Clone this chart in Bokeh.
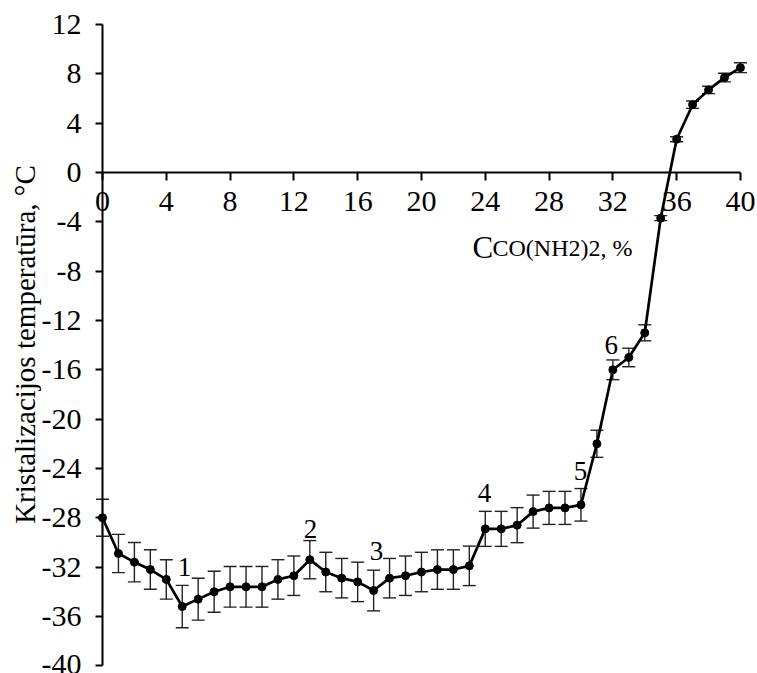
from math import pi

from bokeh.plotting import figure
from bokeh.models import (Range1d, FixedTicker, ColumnDataSource, Whisker,
                          TeeHead, LinearAxis, PrintfTickFormatter)
from bokeh.core.properties import value
from bokeh.embed import file_html
from bokeh.resources import INLINE

# Urea concentration, % and crystallization temperature, °C (mean ± error)
conc = list(range(41))
temp = [-28.0, -30.9, -31.6, -32.2, -33.0, -35.2, -34.6, -34.0, -33.6, -33.6,
        -33.6, -33.0, -32.7, -31.4, -32.4, -32.9, -33.2, -33.9, -32.9, -32.7,
        -32.4, -32.2, -32.2, -31.9, -28.9, -28.9, -28.6, -27.5, -27.2, -27.2,
        -26.95, -22.0, -16.0, -15.0, -13.0, -3.7, 2.7, 5.5, 6.7, 7.7, 8.5]
err = [1.5, 1.55, 1.6, 1.6, 1.6, 1.72, 1.7, 1.66, 1.65, 1.65,
       1.65, 1.6, 1.6, 1.55, 1.6, 1.6, 1.6, 1.65, 1.6, 1.6,
       1.6, 1.6, 1.6, 1.6, 1.42, 1.42, 1.42, 1.34, 1.34, 1.34,
       1.32, 1.1, 0.8, 0.75, 0.65, 0.2, 0.2, 0.3, 0.3, 0.35, 0.4]

x_ticks = list(range(0, 41, 4))
y_ticks = list(range(-40, 13, 4))

# Numbered characteristic points
mark_text = ["1", "2", "3", "4", "5", "6"]
mark_x = [5.14, 13.04, 17.18, 23.95, 29.97, 31.9]
mark_y = [-32.0, -28.9, -30.7, -26.0, -24.2, -13.95]

SERIF = value("Liberation Serif")

p = figure(width=757, height=673,
           x_range=Range1d(-6.395, 41.07), y_range=Range1d(-40.63, 13.95),
           x_axis_type=None, y_axis_type=None,
           output_backend="svg", toolbar_location=None, min_border=0)
p.outline_line_color = None
p.background_fill_color = "white"
p.border_fill_color = "white"

xaxis = LinearAxis(fixed_location=0, bounds=(0, 40),
                   ticker=FixedTicker(ticks=x_ticks, minor_ticks=[]))
yaxis = LinearAxis(fixed_location=0, bounds=(-40, 12),
                   ticker=FixedTicker(ticks=y_ticks, minor_ticks=[]))
for ax in (xaxis, yaxis):
    ax.formatter = PrintfTickFormatter(format="%d")
    ax.axis_line_width = 2
    ax.axis_line_color = "black"
    ax.major_tick_line_width = 2
    ax.major_tick_line_color = "black"
    ax.major_tick_in = 0
    ax.minor_tick_out = 0
    ax.minor_tick_in = 0
    ax.major_label_text_font = "Liberation Serif"
    ax.major_label_text_font_size = "30px"
    ax.major_label_text_color = "black"
xaxis.major_tick_out = 8
xaxis.major_label_standoff = 11
yaxis.major_tick_out = 7
yaxis.major_label_standoff = 14
p.add_layout(xaxis, "below")
p.add_layout(yaxis, "left")

src = ColumnDataSource(dict(
    conc=conc, temp=temp,
    upper=[t + e for t, e in zip(temp, err)],
    lower=[t - e for t, e in zip(temp, err)],
))

p.add_layout(Whisker(source=src, base="conc", upper="upper", lower="lower",
                     dimension="height", line_color="#222222", line_width=1.4,
                     upper_head=TeeHead(size=13, line_width=1.4, line_color="#222222"),
                     lower_head=TeeHead(size=13, line_width=1.4, line_color="#222222")))

p.line("conc", "temp", source=src, line_color="black", line_width=2.7)
p.scatter("conc", "temp", source=src, size=8, fill_color="black", line_color="black")

p.text(x=mark_x, y=mark_y, text=mark_text, text_font=SERIF, text_font_size="27px",
       text_align="center", text_baseline="middle", text_color="black")

# Axis titles
p.text(x=[-4.83], y=[-13.95], text=["Kristalizacijos temperatūra, °C"], angle=pi / 2,
       text_font=SERIF, text_font_size="29px", text_align="center",
       text_baseline="alphabetic", text_color="black")
p.text(x=[23.2], y=[-6.1], text=["C"], text_font=SERIF, text_font_size="31px",
       text_align="left", text_baseline="alphabetic", text_color="black")
p.text(x=[23.2], y=[-6.1], x_offset=20, text=["CO(NH2)2, %"], text_font=SERIF,
       text_font_size="24px", text_align="left", text_baseline="alphabetic",
       text_color="black")

open("out.html", "w").write(file_html(p, INLINE))
